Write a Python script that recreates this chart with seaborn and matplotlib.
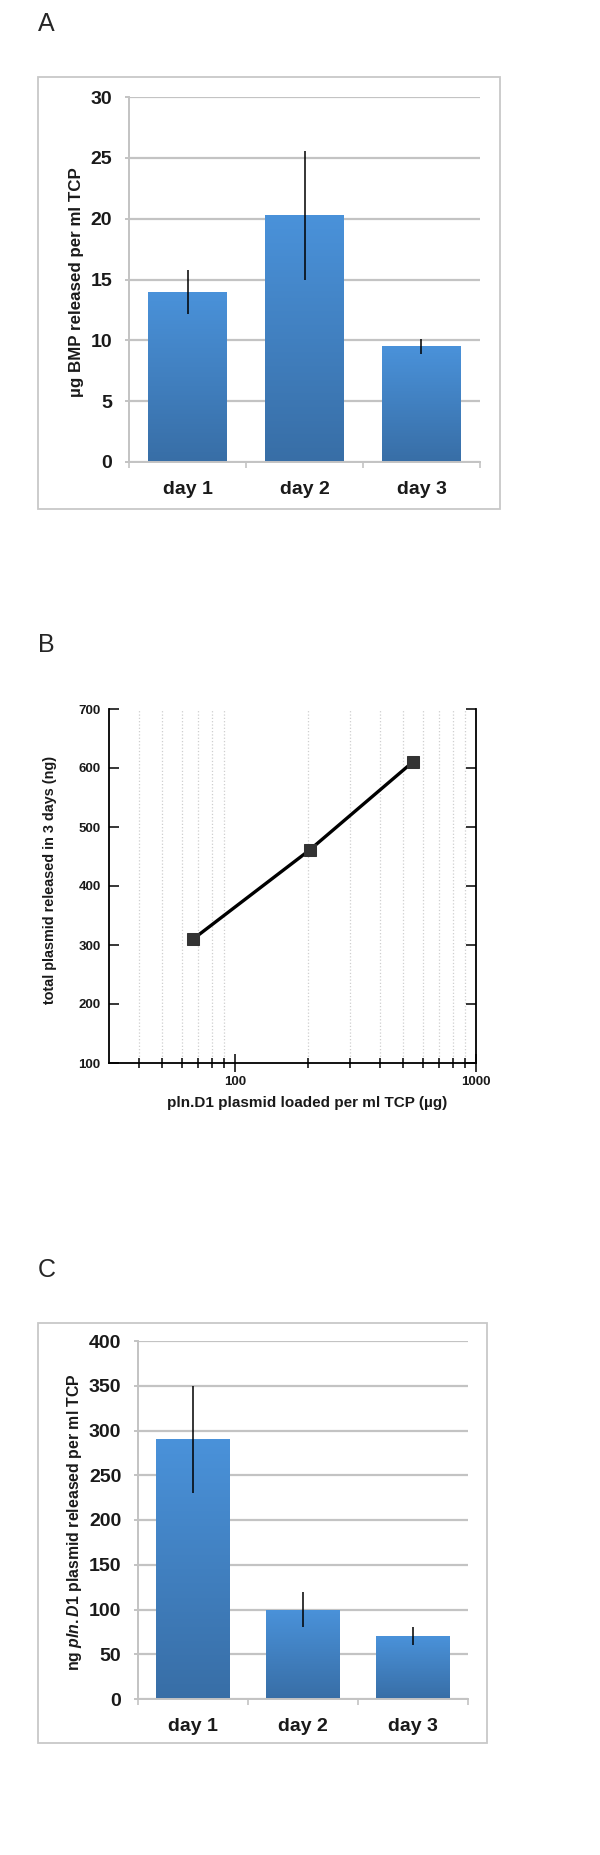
import numpy as np
import pandas as pd
import matplotlib
matplotlib.use('Agg')
import matplotlib.pyplot as plt
from matplotlib.colors import LinearSegmentedColormap
from matplotlib.patches import Rectangle
from matplotlib.ticker import FixedLocator, NullFormatter
import seaborn as sns

# Data
days = ['day 1', 'day 2', 'day 3']

bmp_release = [14.0, 20.3, 9.5]          # panel A, ug BMP per ml TCP
bmp_err = [1.8, 5.3, 0.6]

plasmid_loaded = [67, 204, 546]          # panel B, ug loaded per ml TCP
plasmid_total = [310, 461, 610]          # ng released in 3 days

pln_release = [290, 100, 70]             # panel C, ng pln.D1 per ml TCP
pln_err = [60, 20, 10]

sns.set_style('white')
plt.rcParams['font.family'] = ['Liberation Sans', 'DejaVu Sans']
plt.rcParams['mathtext.fontset'] = 'custom'
plt.rcParams['mathtext.rm'] = 'Liberation Sans:bold'
plt.rcParams['mathtext.it'] = 'Liberation Sans:italic:bold'

W, H = 600, 1855
fig = plt.figure(figsize=(W / 100, H / 100), dpi=100)


def px_axes(x0, y0, x1, y1):
    # pixel box (top-left origin) -> figure axes
    return fig.add_axes([x0 / W, 1 - y1 / H, (x1 - x0) / W, (y1 - y0) / H])


def frame(x0, y0, x1, y1):
    fig.add_artist(Rectangle((x0 / W, 1 - y1 / H), (x1 - x0) / W, (y1 - y0) / H,
                             transform=fig.transFigure, fill=False,
                             edgecolor='#c8c8c8', linewidth=1.3))


bar_cmap = LinearSegmentedColormap.from_list('bar', ['#386ea6', '#4a92da'])
grid_col = '#c3c3c3'


def gradient_bars(ax, values, errs, ymax, yticks):
    df = pd.DataFrame({'day': days, 'value': values})
    sns.barplot(data=df, x='day', y='value', ax=ax, color='#4a92da',
                width=0.67, errorbar=None)
    grad = np.linspace(0, 1, 256).reshape(-1, 1)
    for p in list(ax.patches):
        x0, y0 = p.get_x(), p.get_y()
        w, h = p.get_width(), p.get_height()
        im = ax.imshow(grad, extent=[x0, x0 + w, y0, y0 + h], origin='lower',
                       aspect='auto', cmap=bar_cmap, zorder=1)
        im.set_clip_path(p)
        p.set_facecolor('none')
        p.set_edgecolor('none')
    ax.errorbar(range(len(values)), values, yerr=errs, fmt='none',
                ecolor='black', elinewidth=1.1, capsize=0, zorder=3)
    ax.set_xlim(-0.5, 2.5)
    ax.set_ylim(0, ymax)
    ax.set_yticks(yticks)
    ax.set_axisbelow(True)
    ax.yaxis.grid(True, color=grid_col, linewidth=1.6)
    ax.xaxis.grid(False)
    for s in ['top', 'right']:
        ax.spines[s].set_visible(False)
    for s in ['left', 'bottom']:
        ax.spines[s].set_color(grid_col)
        ax.spines[s].set_linewidth(1.4)
    ax.xaxis.set_minor_locator(FixedLocator([-0.5, 0.5, 1.5, 2.5]))
    ax.tick_params(axis='x', which='major', length=0, pad=14, labelsize=14)
    ax.tick_params(axis='x', which='minor', length=4, width=1.2,
                   color=grid_col, direction='out', bottom=True)
    ax.tick_params(axis='y', which='major', length=3, width=1.4,
                   color=grid_col, direction='out', left=True, pad=9,
                   labelsize=14)
    for lab in ax.get_xticklabels() + ax.get_yticklabels():
        lab.set_fontweight('bold')
        lab.set_color('#1a1a1a')
    ax.set_xlabel('')


# ---------------- Panel A ----------------
fig.text(38 / W, 1 - 24 / H, 'A', fontsize=18, va='center', ha='left')
frame(38, 77, 500, 509)
axA = px_axes(129, 97, 480, 462)
gradient_bars(axA, bmp_release, bmp_err, 30, [0, 5, 10, 15, 20, 25, 30])
axA.set_ylabel('')
fig.text(77 / W, 1 - 282 / H, 'µg BMP released per ml TCP', rotation=90,
         fontsize=12.2, fontweight='bold', ha='center', va='center',
         color='#1a1a1a')

# ---------------- Panel B ----------------
fig.text(38 / W, 1 - 645 / H, 'B', fontsize=18, va='center', ha='left')
axB = px_axes(109, 709, 476, 1063)
sns.lineplot(x=plasmid_loaded, y=plasmid_total, ax=axB, color='black',
             linewidth=2.4, marker='s', markersize=8,
             markerfacecolor='#333333', markeredgecolor='#333333')
axB.set_xscale('log')
axB.set_xlim(30, 1000)
axB.set_ylim(100, 700)
axB.set_yticks([100, 200, 300, 400, 500, 600, 700])
axB.xaxis.set_major_locator(FixedLocator([100, 1000]))
minor_x = [40, 50, 60, 70, 80, 90, 200, 300, 400, 500, 600, 700, 800, 900]
axB.xaxis.set_minor_locator(FixedLocator(minor_x))
axB.xaxis.set_minor_formatter(NullFormatter())
axB.set_xticklabels(['100', '1000'])
axB.grid(False)
axB.xaxis.grid(True, which='minor', color='#cfcfcf', linestyle=':',
               linewidth=0.9)
axB.spines['top'].set_visible(False)
for s in ['left', 'right', 'bottom']:
    axB.spines[s].set_color('black')
    axB.spines[s].set_linewidth(1.3)
axB.tick_params(axis='y', direction='in', length=7, width=1.3,
                left=True, right=True, pad=6, labelsize=9.5)
axB.tick_params(axis='x', which='major', direction='inout', length=13,
                width=1.3, bottom=True, pad=3, labelsize=9.5)
axB.tick_params(axis='x', which='minor', direction='inout', length=7,
                width=1.3, bottom=True)
for lab in axB.get_xticklabels() + axB.get_yticklabels():
    lab.set_fontweight('bold')
    lab.set_color('#1a1a1a')
fig.text(307 / W, 1 - 1103 / H, 'pln.D1 plasmid loaded per ml TCP (µg)',
         fontsize=11, fontweight='bold', ha='center', va='center',
         color='#1a1a1a')
fig.text(50 / W, 1 - 880 / H, 'total plasmid released in 3 days (ng)',
         rotation=90, fontsize=10.4, fontweight='bold', ha='center',
         va='center', color='#1a1a1a')

# ---------------- Panel C ----------------
fig.text(38 / W, 1 - 1270 / H, 'C', fontsize=18, va='center', ha='left')
frame(38, 1323, 487, 1743)
axC = px_axes(138, 1341, 468, 1699)
gradient_bars(axC, pln_release, pln_err, 400,
              [0, 50, 100, 150, 200, 250, 300, 350, 400])
axC.set_ylabel('')
fig.text(75 / W, 1 - 1522 / H, r'ng $\mathit{pln.D1}$ plasmid released per ml TCP',
         rotation=90, fontsize=11.4, fontweight='bold', ha='center',
         va='center', color='#1a1a1a')

fig.savefig('out.png', dpi=100)
